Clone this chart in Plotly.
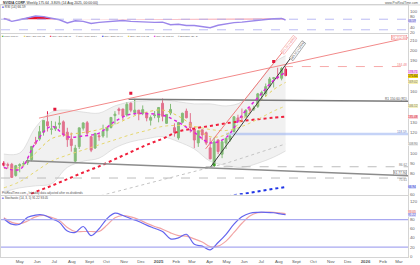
import numpy as np
import pandas as pd
import plotly.graph_objects as go

# ---------------- data (weekly NVDA) ----------------
first_week = "2024-04-03"
opens = [90.3, 88.7, 89.0, 78.1, 87.5, 89.0, 90.5, 93.5, 110.2, 113.6, 120.4, 130.6,
         123.2, 123.5, 128.0, 130.5, 120.4, 113.7, 92.1, 106.3, 124.3, 129.6, 116.0, 104.9,
         116.8, 116.6, 121.8, 124.9, 136.5, 143.0, 143.0, 137.2, 148.7, 139.5, 141.9, 138.8,
         138.9, 132.0, 136.5, 134.8, 148.6, 129.0, 139.0, 124.8, 114.8, 130.0, 141.0, 130.0,
         123.5, 109.9, 122.7, 119.9, 105.1, 87.5, 112.8, 98.8, 109.7, 113.0, 121.0, 134.3,
         135.5, 135.5, 143.2, 142.9, 145.6, 157.2, 158.0, 165.5, 172.8, 174.0, 173.0, 182.0]
highs = [92.2, 90.6, 90.4, 88.4, 90.0, 92.0, 95.7, 106.8, 115.8, 126.5, 132.0, 140.8,
         131.4, 130.7, 136.2, 131.9, 124.7, 120.0, 108.0, 124.8, 130.0, 131.3, 116.3, 119.8,
         118.6, 127.7, 125.0, 135.0, 140.9, 144.4, 143.1, 149.8, 149.7, 152.9, 142.0, 146.5,
         140.0, 136.7, 141.0, 144.9, 153.1, 138.0, 148.0, 129.0, 130.4, 139.3, 143.4, 139.0,
         123.7, 122.0, 122.8, 121.0, 115.0, 115.1, 113.4, 112.0, 114.8, 118.0, 136.0, 137.4,
         143.5, 143.0, 145.0, 146.2, 158.7, 160.9, 167.9, 174.3, 174.3, 183.3, 183.9, 184.5]
lows = [86.8, 84.8, 75.6, 77.0, 81.2, 87.0, 88.3, 92.0, 108.0, 112.0, 117.0, 121.0,
        118.0, 121.5, 124.0, 116.0, 106.0, 101.4, 90.7, 104.0, 122.0, 116.7, 100.9, 104.0,
        112.0, 115.0, 115.0, 124.0, 128.0, 137.5, 132.1, 135.6, 139.8, 137.2, 132.0, 137.0,
        131.0, 126.9, 134.0, 130.0, 131.0, 128.5, 137.0, 116.0, 113.0, 129.0, 134.0, 120.0,
        104.8, 106.0, 112.7, 107.8, 94.0, 86.6, 98.9, 95.0, 104.0, 111.0, 120.0, 129.5,
        131.0, 135.0, 139.0, 141.0, 144.0, 151.5, 155.0, 164.0, 164.0, 172.0, 171.0, 175.0]
closes = [88.0, 88.1, 76.2, 87.7, 88.7, 89.8, 92.5, 106.5, 109.6, 120.9, 131.9, 126.6,
          123.5, 125.8, 129.2, 117.9, 113.1, 107.3, 104.8, 124.6, 129.4, 119.4, 102.8, 119.1,
          116.0, 121.4, 124.9, 134.8, 138.0, 141.5, 136.0, 147.6, 141.9, 141.9, 138.3, 142.4,
          134.3, 134.7, 137.0, 144.5, 135.9, 137.7, 142.6, 120.1, 129.8, 138.9, 134.4, 124.9,
          112.7, 121.7, 117.7, 109.7, 94.3, 110.9, 101.5, 111.0, 114.5, 116.6, 135.4, 131.3,
          135.1, 141.7, 141.9, 143.9, 157.8, 159.3, 164.9, 172.4, 173.5, 173.7, 182.6, 175.64]

# moving averages / bands sampled every 4 weeks (index into weekly candles)
ma_idx = [0, 4, 8, 12, 16, 20, 24, 28, 32, 36, 40, 44, 48, 52, 56, 60, 64, 68, 71]
sma_fast = [86, 84, 110, 126, 116, 116.7, 119.5, 131, 138, 138.5, 137, 130, 120, 110, 115, 137, 154, 171, 178.7]
ema_fast = [85, 86, 100, 114, 118, 120, 123, 128, 135, 140, 142, 136, 126, 116, 118, 132, 148, 162, 169]
ema_slow = [66, 72, 82, 92, 98, 103, 108, 113, 118, 122, 126, 127, 126, 123, 122, 126, 133, 141, 146]
sma50 = [48, 55, 62, 68, 74.5, 81, 87, 94, 101, 108, 114, 121, 124, 126.5, 129, 131.3, 133, 134.5, 135.5]
boll_up = [99, 100, 125, 140, 142, 140, 139, 146, 150, 151, 152, 150, 148, 148, 146, 150, 168, 188, 195]
boll_lo = [62, 66, 68, 70, 86, 92, 95, 105, 111, 114, 116, 111, 104, 92, 88, 86, 90, 96, 102]
sma100_idx = [20, 24, 28, 32, 36, 40, 44, 48, 52, 56, 60, 64, 68, 71]
sma100 = [54, 58, 62, 66, 70, 74, 78, 82, 86, 90, 95, 100, 105, 108.9]
sma200_idx = [52, 56, 60, 64, 68, 71]
sma200 = [55, 57.5, 60, 62.5, 65, 66.9]

# swing-high markers
dot_dates = ["2024-07-02", "2024-11-13", "2025-07-23"]
dot_prices = [142.8, 158.3, 189.3]

# drawn lines (start/end)
chan_up_dates = ["2024-06-04", "2026-03-17"]; chan_up_prices = [134.1, 212.6]
res_dates = ["2024-11-09", "2026-03-17"]; res_prices = [152.5, 150.6]
chan_lo_dates = ["2024-05-12", "2026-03-17"]; chan_lo_prices = [92.4, 77.9]
trend_blk_dates = ["2025-04-03", "2025-08-25"]; trend_blk_prices = [86.6, 195.1]
trend_red_dates = ["2025-03-25", "2025-08-11"]; trend_red_prices = [104.1, 201.0]
ath_dates = ["2025-08-10", "2026-03-17"]; ath_level = 184.48
low25_dates = ["2025-03-25", "2026-03-17"]; low25_level = 86.62
low24_dates = ["2024-03-29", "2026-03-17"]; low24_level = 75.61
blue_dates = ["2025-04-30", "2026-03-17"]; blue_level = 118.59

# oscillators sampled every 2 weeks
osc_idx = list(range(0, 72, 2)) + [71]
rsi = [73, 62, 68, 75, 82, 80, 73, 68, 56, 64, 62, 54, 58, 60, 63, 65, 62, 61, 58, 58, 59,
       49, 51, 46, 46, 41, 38, 47, 53, 57, 59, 63, 67, 69, 72, 73, 67]
stoch_k = [82, 70, 70, 85, 90, 90, 82, 74, 55, 52, 65, 45, 60, 82, 94, 89, 82, 76, 68, 61, 54,
           38, 40, 48, 26, 22, 14, 30, 48, 70, 86, 94, 96, 96, 95, 92, 91]
stoch_d = [84, 74, 71, 77, 86, 89, 85, 78, 63, 54, 54, 54, 54, 68, 84, 89, 86, 80, 72, 65, 59,
           51, 45, 44, 38, 31, 21, 22, 33, 52, 72, 88, 95, 96, 96, 94, 93]

month_ticks = ["2024-05-01", "2024-06-01", "2024-07-01", "2024-08-01", "2024-09-01", "2024-10-01",
               "2024-11-01", "2024-12-01", "2025-01-01", "2025-02-01", "2025-03-01", "2025-04-01",
               "2025-05-01", "2025-06-01", "2025-07-01", "2025-08-01", "2025-09-01", "2025-10-01",
               "2025-11-01", "2025-12-01", "2026-01-01", "2026-02-01", "2026-03-01"]
month_text = ["May", "Jun", "Jul", "Aug", "Sept", "Oct", "Nov", "Dec", "<b>2025</b>", "Feb", "Mar", "Apr",
              "May", "Jun", "Jul", "Aug", "Sept", "Oct", "Nov", "Dec", "<b>2026</b>", "Feb", "Mar"]
price_ticks = [60, 80, 90, 100, 120, 130, 160, 190, 200, 210]
rsi_ticks = [20, 40, 80, 100]
stoch_ticks = [0, 20, 40, 60, 80, 120]

legend_colors = ["#3a9e24", "#e2cf55", "#f0203c", "#c4c4c4", "#1f35e6", "#d8c840", "#dd22dd", "#bbbbbb"]
legend_texts = ["Price 175.64", "EMA (20) 169.02", "SMA (50) 135.48", "SMA (100) 108.9",
                "SMA (200) 66.94", "EMA (50) 146.12", "SMA (5) 178.71", "Bollinger (20, 2)"]

# ---------------- figure ----------------
dates = pd.date_range(first_week, periods=len(closes), freq="7D")
ma_d = dates[ma_idx]
osc_d = dates[osc_idx]
XR = ["2024-03-29", "2026-03-17"]
FONT = "Liberation Sans"
GREEN, RED = "#3a9e24", "#e3174b"
MAIN_DOM = [1 - 196 / 265, 1 - 34 / 265]
MAIN_RNG = [59.5, 216.5]

def main_paper(p):
    # price -> paper coordinate inside the main panel
    return MAIN_DOM[0] + (p - MAIN_RNG[0]) / (MAIN_RNG[1] - MAIN_RNG[0]) * (MAIN_DOM[1] - MAIN_DOM[0])

fig = go.Figure()

# --- RSI panel (y) ---
fig.add_trace(go.Scatter(x=osc_d, y=[70] * len(rsi), mode="lines", line=dict(width=0),
                         xaxis="x", yaxis="y", hoverinfo="skip"))
fig.add_trace(go.Scatter(x=osc_d, y=np.maximum(rsi, 70), mode="lines", line=dict(width=0),
                         fill="tonexty", fillcolor="#e8102c", xaxis="x", yaxis="y", hoverinfo="skip"))
fig.add_trace(go.Scatter(x=osc_d, y=rsi, mode="lines", line=dict(color="#9b86ea", width=1.4),
                         xaxis="x", yaxis="y"))

# --- main panel (y2) ---
fig.add_trace(go.Scatter(x=ma_d, y=boll_up, mode="lines", line=dict(color="#d6d6d6", width=0.7, shape="spline"),
                         xaxis="x2", yaxis="y2"))
fig.add_trace(go.Scatter(x=ma_d, y=boll_lo, mode="lines", line=dict(color="#d6d6d6", width=0.7, shape="spline"),
                         fill="tonexty", fillcolor="rgba(225,225,225,0.45)", xaxis="x2", yaxis="y2"))

def hline(xs, ys, color, width=1, dash="solid"):
    fig.add_trace(go.Scatter(x=xs, y=ys, mode="lines", line=dict(color=color, width=width, dash=dash),
                             xaxis="x2", yaxis="y2", hoverinfo="skip"))

hline(blue_dates, [blue_level] * 2, "rgba(150,175,240,0.55)", 2.5)
hline(low24_dates, [low24_level] * 2, "#b5b5b5", 0.9, "dash")
hline(low25_dates, [low25_level] * 2, "#b5b5b5", 0.9, "dash")
hline(ath_dates, [ath_level] * 2, "#f5a0a0", 0.9, "dash")

fig.add_trace(go.Scatter(x=dates[sma200_idx], y=sma200, mode="lines",
                         line=dict(color="#1f35e6", width=2, dash="dot"), xaxis="x2", yaxis="y2"))
fig.add_trace(go.Scatter(x=dates[sma100_idx], y=sma100, mode="lines",
                         line=dict(color="#c4c4c4", width=1, dash="dot"), xaxis="x2", yaxis="y2"))
fig.add_trace(go.Scatter(x=ma_d, y=sma50, mode="lines", line=dict(color="#f0203c", width=2, dash="dot", shape="spline"),
                         xaxis="x2", yaxis="y2"))
fig.add_trace(go.Scatter(x=ma_d, y=ema_slow, mode="lines", line=dict(color="#e6d870", width=1, dash="dot", shape="spline"),
                         xaxis="x2", yaxis="y2"))
fig.add_trace(go.Scatter(x=ma_d, y=ema_fast, mode="lines", line=dict(color="#e2cf55", width=1, dash="dot", shape="spline"),
                         xaxis="x2", yaxis="y2"))

hline(chan_lo_dates, chan_lo_prices, "#8c8c8c", 1.5)
hline(res_dates, res_prices, "#7a7a7a", 1.5)
hline(chan_up_dates, chan_up_prices, "#f28a8a", 1)
hline(trend_red_dates, trend_red_prices, "#f07a7a", 1)
hline(trend_blk_dates, trend_blk_prices, "#3c3c3c", 1)

fig.add_trace(go.Candlestick(x=dates, open=opens, high=highs, low=lows, close=closes,
                             increasing=dict(line=dict(color=GREEN, width=1), fillcolor=GREEN),
                             decreasing=dict(line=dict(color=RED, width=1), fillcolor=RED),
                             whiskerwidth=0, xaxis="x2", yaxis="y2"))
fig.add_trace(go.Scatter(x=ma_d, y=sma_fast, mode="lines", line=dict(color="#dd22dd", width=1.5, dash="dot", shape="spline"),
                         xaxis="x2", yaxis="y2"))
fig.add_trace(go.Scatter(x=dot_dates, y=dot_prices, mode="markers",
                         marker=dict(color="#e3173b", size=3, symbol="square"), xaxis="x2", yaxis="y2"))

# --- stochastic panel (y3) ---
fig.add_trace(go.Scatter(x=osc_d, y=stoch_d, mode="lines", line=dict(color="#f2a4a4", width=1.2, shape="spline"),
                         xaxis="x3", yaxis="y3"))
fig.add_trace(go.Scatter(x=osc_d, y=stoch_k, mode="lines", line=dict(color="#6464ee", width=1.2, shape="spline"),
                         xaxis="x3", yaxis="y3"))

XD = [0, 0.9714]
ax_common = dict(range=XR, domain=XD, showgrid=False, zeroline=False, showline=True, mirror=True,
                 linecolor="#d4d4d4", linewidth=1, ticks="", fixedrange=True)
yfont = dict(family=FONT, size=4.3, color="#666")
fig.update_layout(
    width=420, height=265, margin=dict(l=0, r=0, t=0, b=0),
    paper_bgcolor="white", plot_bgcolor="white", showlegend=False,
    font=dict(family=FONT, size=5, color="#444"),
    xaxis=dict(**ax_common, anchor="y", showticklabels=False, type="date", rangeslider=dict(visible=False)),
    xaxis2=dict(**ax_common, anchor="y2", showticklabels=False, type="date", matches="x", rangeslider=dict(visible=False)),
    xaxis3=dict(**ax_common, anchor="y3", type="date", matches="x", tickvals=month_ticks, ticktext=month_text,
                tickfont=dict(family=FONT, size=4.3, color="#555"), ticklen=0, rangeslider=dict(visible=False)),
    yaxis=dict(domain=[1 - 33 / 265, 1 - 5 / 265], range=[18.8, 124], side="right", anchor="x",
               showgrid=False, zeroline=False, showline=True, mirror=True, linecolor="#d4d4d4",
               tickvals=rsi_ticks, tickfont=yfont, fixedrange=True),
    yaxis2=dict(domain=MAIN_DOM, range=MAIN_RNG, side="right", anchor="x2",
                showgrid=False, zeroline=False, showline=True, mirror=True, linecolor="#d4d4d4",
                tickvals=price_ticks, tickfont=yfont, fixedrange=True),
    yaxis3=dict(domain=[1 - 259 / 265, 1 - 197 / 265], range=[-1.7, 132.6], side="right", anchor="x3",
                showgrid=False, zeroline=False, showline=True, mirror=True, linecolor="#d4d4d4",
                tickvals=stoch_ticks, tickfont=yfont, fixedrange=True),
)

# oscillator level lines
fig.add_shape(type="line", xref="x domain", yref="y", x0=0, x1=1, y0=70, y1=70,
              line=dict(color="#a8a8f0", width=0.8, dash="dash"))
fig.add_shape(type="line", xref="x domain", yref="y", x0=0, x1=1, y0=30, y1=30,
              line=dict(color="#a8a8f0", width=0.8, dash="dash"))
fig.add_shape(type="line", xref="x3 domain", yref="y3", x0=0, x1=1, y0=80, y1=80,
              line=dict(color="#a8a8f0", width=1.2))
fig.add_shape(type="line", xref="x3 domain", yref="y3", x0=0, x1=1, y0=20, y1=20,
              line=dict(color="#a8a8f0", width=1.2))

def txt(x, y, s, color="#444", size=4, xanchor="left", yref="paper", xref="paper", bg=None, border=None, angle=0):
    fig.add_annotation(x=x, y=y, xref=xref, yref=yref, text=s, showarrow=False, xanchor=xanchor,
                       yanchor="middle", textangle=angle,
                       font=dict(family=FONT, size=size, color=color), bgcolor=bg,
                       bordercolor=border, borderwidth=0.5 if border else 0, borderpad=0)

# title
txt(0.004, 1 - 2.6 / 265, "<b>NVIDIA CORP.</b> Weekly 175.64 -3.80% (14 Aug 2025, 00:00:00)", "#333", 3.4)
txt(0.996, 1 - 2.6 / 265, "www.ProRealTime.com", "#555", 3.2, xanchor="right")
# RSI legend
txt(0.003, 1 - 7.5 / 265, "<span style='color:#6b6be8'>■</span> RSI (14) 66.59", "#444", 3.2)
# main legend (positions accumulate along the row)
lx = 1.0
for c, s in zip(legend_colors, legend_texts):
    txt(lx / 420, 1 - 37 / 265, f"<span style='color:{c}'>■</span> {s}", "#555", 2.5)
    lx += (len(s) + 3) * 1.45
# stochastic legend / note
txt(0.002, 1 - 194 / 265, "ProRealTime.com - Intraday data adjusted after ex-dividends", "#555", 3.0)
txt(0.003, 1 - 200 / 265, "<span style='color:#6b6be8'>■</span> Stochastic (14, 3, 5) 91.22 93.05", "#444", 3.0)

# right-axis value boxes (main)
AX = 0.9725
IN = 0.969
txt(IN, main_paper(212.6), "R2 212.60", "#f07070", 3.2, xanchor="right", bg="white", border="#f28a8a")
txt(IN, main_paper(ath_level + 1.6), "184.48", "#f08080", 3.2, xanchor="right")
txt(AX, main_paper(179.6), "178.71", "#c020c0", 3.1, bg="#f6d0f6")
txt(AX, main_paper(175.0), "175.64", "#222", 3.1, bg="#f2cf10")
txt(AX, main_paper(169.02), "169.02", "#777", 3.1, bg="#f8f0b0")
txt(IN, main_paper(153.2), "R1 150.60 (R1)", "#555", 3.2, xanchor="right")
txt(AX, main_paper(146.12), "146.12", "#777", 3.1, bg="#f4f0c0")
txt(AX, main_paper(135.48), "135.48", "#d0102c", 3.1, bg="#fbd0d6")
txt(IN, main_paper(blue_level + 1.6), "118.59", "#7080c0", 3.2, xanchor="right")
txt(AX, main_paper(108.9), "108.90", "#888", 3.1, bg="#eeeeee")
txt(IN, main_paper(low25_level + 1.6), "86.62", "#777", 3.2, xanchor="right")
txt(IN, main_paper(80.6), "S1 77.90", "#555", 3.2, xanchor="right", bg="white", border="#999")
txt(IN, main_paper(low24_level - 1.8), "75.61", "#777", 3.2, xanchor="right")
txt(AX, main_paper(66.94), "66.94", "#2030d0", 3.1, bg="#d8dcf8")
# rotated labels on steep trend lines
txt("2025-08-19", 206.0, "201.00 (+93%)", "#f07070", 3.0, xref="x2", yref="y2", xanchor="center",
    bg="white", border="#f28a8a", angle=-52)
txt("2025-09-03", 200.5, "195.10 (+125%)", "#333", 3.0, xref="x2", yref="y2", xanchor="center",
    bg="white", border="#666", angle=-54)
# oscillator boxes
txt(AX, 62.0, "66.59", "#5050c0", 3.1, yref="y", bg="#ddd8f8")
txt(AX, 97.5, "93.05", "#e07070", 3.1, yref="y3", bg="#fbe0e0")
txt(AX, 90.0, "91.22", "#5050d0", 3.1, yref="y3", bg="#dedef8")

# top separator line
fig.add_shape(type="line", xref="paper", yref="paper", x0=0, x1=1, y0=1 - 5 / 265, y1=1 - 5 / 265,
              line=dict(color="#d0d0d0", width=0.8))

fig.write_html("out.html", config={"displayModeBar": False})
